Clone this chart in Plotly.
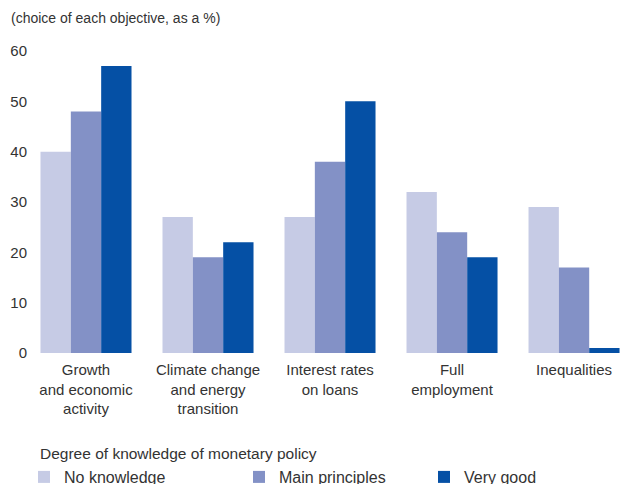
import plotly.graph_objects as go

categories = ["Growth<br>and economic<br>activity", "Climate change<br>and energy<br>transition",
              "Interest rates<br>on loans", "Full<br>employment", "Inequalities"]
no_knowledge = [40, 27, 27, 32, 29]
main_principles = [48, 19, 38, 24, 17]
very_good = [57, 22, 50, 19, 1]
y_ticks = [0, 10, 20, 30, 40, 50, 60]

series = [
    ("No knowledge", no_knowledge, "#C6CBE5", "legend"),
    ("Main principles", main_principles, "#8391C6", "legend2"),
    ("Very good", very_good, "#0550A5", "legend3"),
]

FONT = "Liberation Sans, Arial, sans-serif"
TXT = "#333333"

L, R, T, B = 30, 0, 51, 131
W, H = 621, 484
PW, PH = W - L - R, H - T - B


def px_x(p):
    return (p - L) / PW


def px_y(p):
    return (H - B - p) / PH


fig = go.Figure()
xs = list(range(len(categories)))
for name, vals, col, lg in series:
    fig.add_trace(go.Bar(x=xs, y=vals, name=name, legend=lg,
                         marker=dict(color=col, line=dict(width=0))))

leg_common = dict(orientation="h", xanchor="left", yanchor="top", y=px_y(460),
                  font=dict(size=16, color=TXT), bgcolor="rgba(0,0,0,0)",
                  borderwidth=0, itemwidth=30)

fig.update_layout(
    width=W, height=H,
    margin=dict(l=L, r=R, t=T, b=B, autoexpand=False),
    paper_bgcolor="white", plot_bgcolor="white",
    barmode="group", bargap=0.254, bargroupgap=0,
    font=dict(family=FONT, color=TXT, size=15),
    showlegend=True,
    legend=dict(x=px_x(24), **leg_common),
    legend2=dict(x=px_x(239), **leg_common),
    legend3=dict(x=px_x(424), **leg_common),
    xaxis=dict(
        range=[-0.459, 4.385], tickmode="array", tickvals=xs, ticktext=categories,
        showline=False, showgrid=False, zeroline=False, ticks="",
        tickfont=dict(size=15, color=TXT), ticklabelstandoff=6,
    ),
    yaxis=dict(
        range=[0, 60], tickmode="array", tickvals=y_ticks,
        showline=False, showgrid=False, zeroline=False, ticks="",
        tickfont=dict(size=15, color=TXT), ticklabelstandoff=2,
    ),
    annotations=[
        dict(text="(choice of each objective, as a %)", xref="paper", yref="paper",
             x=px_x(9), y=px_y(18), xanchor="left", yanchor="middle", showarrow=False,
             font=dict(size=14, color=TXT)),
        dict(text="Degree of knowledge of monetary policy", xref="paper", yref="paper",
             x=px_x(38), y=px_y(453), xanchor="left", yanchor="middle", showarrow=False,
             font=dict(size=15.5, color=TXT)),
    ],
)

fig.write_html("out.html", config={"displayModeBar": False},
               post_script="document.body.style.margin='0px';document.body.style.overflow='hidden';")
